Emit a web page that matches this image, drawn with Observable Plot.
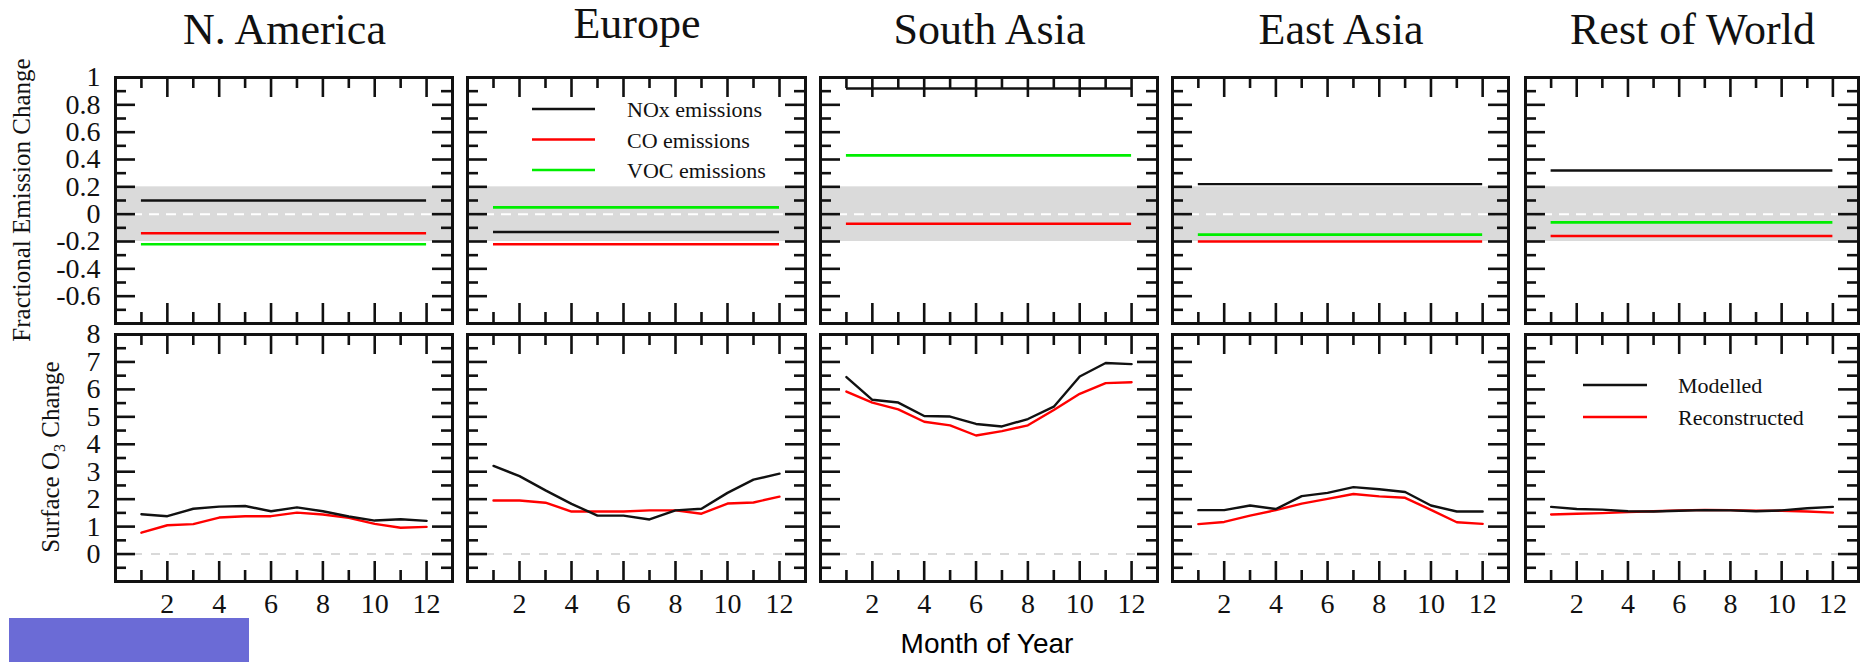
<!DOCTYPE html>
<html><head><meta charset="utf-8">
<script src="https://cdn.jsdelivr.net/npm/d3@7"></script>
<script src="https://cdn.jsdelivr.net/npm/@observablehq/plot@0.6"></script>
<style>
html,body{margin:0;padding:0;background:#fff;}
#chart{position:relative;width:1860px;height:662px;overflow:hidden;background:#fff;}
#chart svg{position:absolute;}
#chart svg text{font-family:"Liberation Serif","Times New Roman",serif;}
#chart svg text.sans{font-family:"Liberation Sans",Arial,sans-serif;}
</style></head><body><div id="chart"></div>
<script>
// ---------------- DATA ----------------
const regions = ["N. America", "Europe", "South Asia", "East Asia", "Rest of World"];
const months = [1, 2, 3, 4, 5, 6, 7, 8, 9, 10, 11, 12];

// Fractional emission change (constant through the year)
const emissionSeries = ["NOx emissions", "CO emissions", "VOC emissions"];
const noxChange = [0.10, -0.13, 0.92, 0.22, 0.32];
const coChange = [-0.14, -0.22, -0.07, -0.20, -0.16];
const vocChange = [-0.22, 0.05, 0.43, -0.15, -0.06];
const bandRange = [-0.2, 0.2];

// Surface O3 change by month
const o3Series = ["Modelled", "Reconstructed"];
const naModelled = [1.45, 1.38, 1.65, 1.73, 1.75, 1.56, 1.70, 1.56, 1.37, 1.22, 1.27, 1.21];
const naReconstructed = [0.78, 1.05, 1.09, 1.33, 1.38, 1.38, 1.51, 1.44, 1.32, 1.10, 0.96, 0.99];
const euModelled = [3.21, 2.84, 2.32, 1.83, 1.40, 1.40, 1.26, 1.59, 1.65, 2.23, 2.71, 2.93];
const euReconstructed = [1.95, 1.95, 1.87, 1.55, 1.55, 1.55, 1.59, 1.59, 1.47, 1.84, 1.88, 2.09];
const saModelled = [6.45, 5.62, 5.52, 5.03, 5.01, 4.74, 4.65, 4.92, 5.37, 6.47, 6.96, 6.92];
const saReconstructed = [5.92, 5.52, 5.27, 4.82, 4.69, 4.32, 4.48, 4.69, 5.25, 5.84, 6.23, 6.26];
const eaModelled = [1.60, 1.60, 1.77, 1.64, 2.11, 2.23, 2.44, 2.36, 2.26, 1.77, 1.55, 1.55];
const eaReconstructed = [1.09, 1.17, 1.40, 1.60, 1.84, 2.01, 2.19, 2.10, 2.05, 1.61, 1.16, 1.10];
const rowModelled = [1.72, 1.64, 1.62, 1.56, 1.55, 1.58, 1.60, 1.59, 1.56, 1.59, 1.67, 1.72];
const rowReconstructed = [1.44, 1.47, 1.49, 1.53, 1.56, 1.59, 1.61, 1.60, 1.58, 1.58, 1.55, 1.51];
const modelled = [naModelled, euModelled, saModelled, eaModelled, rowModelled];
const reconstructed = [naReconstructed, euReconstructed, saReconstructed, eaReconstructed, rowReconstructed];

// Axes
const xDomain = [0, 13];
const xLabelTicks = [2, 4, 6, 8, 10, 12];
const xMajorTicks = [2, 4, 6, 8, 10, 12];
const xMinorTicks = [1, 3, 5, 7, 9, 11];
const emisDomain = [-0.8, 1];
const emisLabelTicks = [1, 0.8, 0.6, 0.4, 0.2, 0, -0.2, -0.4, -0.6];
const emisMajorTicks = [0.8, 0.6, 0.4, 0.2, 0, -0.2, -0.4, -0.6];
const emisMinorTicks = [0.9, 0.7, 0.5, 0.3, 0.1, -0.1, -0.3, -0.5, -0.7];
const o3Domain = [-1, 8];
const o3LabelTicks = [0, 1, 2, 3, 4, 5, 6, 7, 8];
const o3MajorTicks = [0, 1, 2, 3, 4, 5, 6, 7];
const o3MinorTicks = [-0.5, 0.5, 1.5, 2.5, 3.5, 4.5, 5.5, 6.5, 7.5];

// ---------------- STYLE / LAYOUT ----------------
const INK = "#111";
const emisColors = ["#111111", "#ff0000", "#00ee00"];
const o3Colors = ["#111111", "#ff0000"];
const SERIF = "Liberation Serif";
const panelLefts = [115, 467, 820, 1172, 1525];
const panelWidths = [337, 338, 337, 336, 333];
const rowTops = [77, 334];
const rowHeights = [246, 247];
const MAJOR = 20, MINOR = 11;

const chart = document.getElementById("chart");

function tickMarks(W, H, xMaj, xMin, yMaj, yMin) {
  const o = {stroke: INK, strokeWidth: 2.6, strokeLinecap: "butt"};
  return [
    Plot.tickX(xMaj, {x: d => d, insetBottom: H - MAJOR, ...o}),
    Plot.tickX(xMaj, {x: d => d, insetTop: H - MAJOR, ...o}),
    Plot.tickX(xMin, {x: d => d, insetBottom: H - MINOR, ...o}),
    Plot.tickX(xMin, {x: d => d, insetTop: H - MINOR, ...o}),
    Plot.tickY(yMaj, {y: d => d, insetRight: W - MAJOR, ...o}),
    Plot.tickY(yMaj, {y: d => d, insetLeft: W - MAJOR, ...o}),
    Plot.tickY(yMin, {y: d => d, insetRight: W - MINOR, ...o}),
    Plot.tickY(yMin, {y: d => d, insetLeft: W - MINOR, ...o})
  ];
}

function place(svg, left, top) {
  svg.style.position = "absolute";
  svg.style.left = left + "px";
  svg.style.top = top + "px";
  chart.appendChild(svg);
}

const axisText = {tickSize: 0, label: null, tickFormat: d => String(d), fontSize: 28, fontFamily: SERIF};

regions.forEach((region, i) => {
  const W = panelWidths[i];
  // ---- top row: fractional emission change
  {
    const H = rowHeights[0];
    const ml = i === 0 ? 115 : 4, mr = 4, mt = 4, mb = 4;
    const showY = i === 0;
    const marks = [
      Plot.rect([bandRange], {y1: d => d[0], y2: d => d[1], fill: "#dadada"}),
      Plot.ruleY([0], {stroke: "#ffffff", strokeWidth: 2, strokeDasharray: "10,7"}),
      Plot.ruleY([vocChange[i]], {x1: months[0], x2: months[months.length - 1], stroke: emisColors[2], strokeWidth: 2.6}),
      Plot.ruleY([coChange[i]], {x1: months[0], x2: months[months.length - 1], stroke: emisColors[1], strokeWidth: 2.6}),
      Plot.ruleY([noxChange[i]], {x1: months[0], x2: months[months.length - 1], stroke: emisColors[0], strokeWidth: 2.4}),
      ...tickMarks(W, H, xMajorTicks, xMinorTicks, emisMajorTicks, emisMinorTicks),
      Plot.frame({stroke: INK, strokeWidth: 3})
    ];
    if (showY) marks.push(Plot.axisY(emisLabelTicks, {anchor: "left", tickPadding: 15, ...axisText}));
    const svg = Plot.plot({
      width: ml + W + mr, height: mt + H + mb,
      marginLeft: ml, marginRight: mr, marginTop: mt, marginBottom: mb,
      x: {domain: xDomain, axis: null},
      y: {domain: emisDomain, ...(showY ? {} : {axis: null})},
      style: {background: "none", overflow: "visible", fontFamily: SERIF, fontSize: "28px", color: INK},
      marks
    });
    place(svg, panelLefts[i] - ml, rowTops[0] - mt);
  }
  // ---- bottom row: surface O3 change
  {
    const H = rowHeights[1];
    const ml = i === 0 ? 115 : 4, mr = 4, mt = 4, mb = 50;
    const showY = i === 0;
    const marks = [
      Plot.ruleY([0], {stroke: "#d9d9d9", strokeWidth: 2, strokeDasharray: "9,9"}),
      Plot.line(months, {x: d => d, y: (d, k) => reconstructed[i][k], stroke: o3Colors[1], strokeWidth: 2.4}),
      Plot.line(months, {x: d => d, y: (d, k) => modelled[i][k], stroke: o3Colors[0], strokeWidth: 2.4}),
      ...tickMarks(W, H, xMajorTicks, xMinorTicks, o3MajorTicks, o3MinorTicks),
      Plot.frame({stroke: INK, strokeWidth: 3}),
      Plot.axisX(xLabelTicks, {anchor: "bottom", tickPadding: 12, ...axisText})
    ];
    if (showY) marks.push(Plot.axisY(o3LabelTicks, {anchor: "left", tickPadding: 15, ...axisText}));
    const svg = Plot.plot({
      width: ml + W + mr, height: mt + H + mb,
      marginLeft: ml, marginRight: mr, marginTop: mt, marginBottom: mb,
      x: {domain: xDomain},
      y: {domain: o3Domain, ...(showY ? {} : {axis: null})},
      style: {background: "none", overflow: "visible", fontFamily: SERIF, fontSize: "28px", color: INK},
      marks
    });
    place(svg, panelLefts[i] - ml, rowTops[1] - mt);
  }
});

// ---------------- TEXT OVERLAY ----------------
const ov = d3.create("svg").attr("width", 1860).attr("height", 662)
  .style("position", "absolute").style("left", "0px").style("top", "0px")
  .style("overflow", "visible").style("pointer-events", "none");

regions.forEach((name, i) => {
  ov.append("text")
    .attr("x", panelLefts[i] + panelWidths[i] / 2 + 1)
    .attr("y", i === 1 ? 38 : 44)
    .attr("text-anchor", "middle").attr("font-size", 44).attr("fill", INK)
    .text(name);
});

ov.append("text")
  .attr("transform", "translate(30,200) rotate(-90)")
  .attr("text-anchor", "middle").attr("font-size", 25).attr("fill", INK)
  .text("Fractional Emission Change");

const s = ov.append("text")
  .attr("transform", "translate(59,457) rotate(-90)")
  .attr("text-anchor", "middle").attr("font-size", 25).attr("fill", INK);
s.append("tspan").text("Surface O");
s.append("tspan").attr("font-size", 16).attr("dy", 6).text("3");
s.append("tspan").attr("dy", -6).text(" Change");

ov.append("text").attr("class", "sans")
  .attr("x", 987).attr("y", 653)
  .attr("text-anchor", "middle").attr("font-size", 28).attr("fill", "#000")
  .text("Month of Year");

// legend: emissions (Europe panel, top row)
emissionSeries.forEach((name, k) => {
  const y = rowTops[0] + 32 + k * 30.5;
  const x0 = panelLefts[1] + 65;
  ov.append("line").attr("x1", x0).attr("x2", x0 + 63).attr("y1", y).attr("y2", y)
    .attr("stroke", emisColors[k]).attr("stroke-width", 2.6);
  ov.append("text").attr("x", x0 + 95).attr("y", y + 8)
    .attr("font-size", 22).attr("fill", INK).text(name);
});
// legend: O3 (Rest of World panel, bottom row)
o3Series.forEach((name, k) => {
  const y = rowTops[1] + 51 + k * 32;
  const x0 = panelLefts[4] + 58;
  ov.append("line").attr("x1", x0).attr("x2", x0 + 64).attr("y1", y).attr("y2", y)
    .attr("stroke", o3Colors[k]).attr("stroke-width", 2.6);
  ov.append("text").attr("x", x0 + 95).attr("y", y + 8)
    .attr("font-size", 22).attr("fill", INK).text(name);
});
chart.appendChild(ov.node());

// blue block at lower left
const blk = document.createElement("div");
blk.style.cssText = "position:absolute;left:9px;top:618px;width:240px;height:44px;background:#6b6bd6;";
chart.appendChild(blk);
</script></body></html>
